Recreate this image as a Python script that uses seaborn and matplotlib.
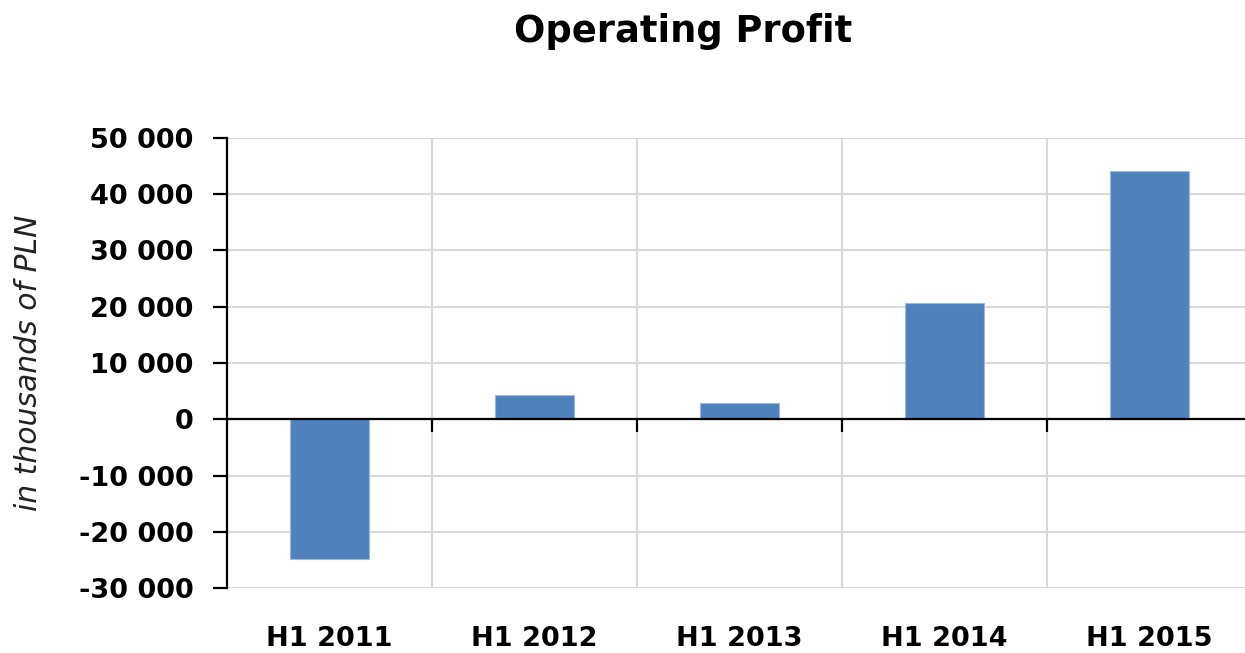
import matplotlib
matplotlib.use("Agg")
import matplotlib.pyplot as plt
import seaborn as sns
import pandas as pd
from matplotlib.ticker import FuncFormatter, MultipleLocator

categories = ["H1 2011", "H1 2012", "H1 2013", "H1 2014", "H1 2015"]
operating_profit = [-24800, 4300, 2900, 20700, 44200]
title = "Operating Profit"
y_label = "in thousands of PLN"

df = pd.DataFrame({"period": categories, "value": operating_profit})

sns.set_theme(style="white")
plt.rcParams["font.family"] = ["DejaVu Sans"]

fig = plt.figure(figsize=(12.45, 6.53), dpi=100)
ax = fig.add_axes([227 / 1245, 1 - 588 / 653, 1 - 227 / 1245, (588 - 138) / 653])

sns.barplot(data=df, x="period", y="value", color="#4F81BD", saturation=1,
            width=0.39, edgecolor="#9DB9DC", linewidth=0.8, ax=ax, zorder=3)

ax.set_ylim(-30000, 50000)
ax.set_xlim(-0.5, len(categories) - 0.5 - 7 / 205)
ax.yaxis.set_major_locator(MultipleLocator(10000))
ax.yaxis.set_major_formatter(FuncFormatter(lambda v, p: f"{v:,.0f}".replace(",", " ")))

boundaries = [i + 0.5 for i in range(len(categories) - 1)]
ax.set_xticks(boundaries, minor=True)

ax.grid(axis="y", which="major", color="#D9D9D9", linewidth=1.5)
ax.grid(axis="x", which="minor", color="#D9D9D9", linewidth=1.5)
ax.grid(axis="x", which="major", visible=False)
ax.set_axisbelow(True)

for s in ["top", "right", "bottom"]:
    ax.spines[s].set_visible(False)
ax.spines["left"].set_color("black")
ax.spines["left"].set_linewidth(1.6)
ax.spines["left"].set_zorder(6)

ax.tick_params(axis="y", which="major", direction="out", length=10, width=1.6,
               color="black", pad=14, left=True, labelsize=19.5)
ax.tick_params(axis="x", which="major", length=0, pad=27, labelsize=19.5)
ax.tick_params(axis="x", which="minor", length=0)
for lab in ax.get_xticklabels() + ax.get_yticklabels():
    lab.set_fontweight("bold")
    lab.set_color("black")

# zero line with category-boundary ticks
sec = ax.secondary_xaxis(0, transform=ax.transData)
sec.set_zorder(10)
sec.set_xticks(boundaries)
sec.set_xticklabels([""] * len(boundaries))
sec.tick_params(direction="out", length=9, width=1.6, color="black")
sec.spines["bottom"].set_color("black")
sec.spines["bottom"].set_linewidth(1.6)

ax.set_xlabel("")
ax.set_ylabel(y_label, fontsize=21.5, fontstyle="italic", color="#222222")
ax.yaxis.set_label_coords(-(227 - 43) / 1018, 0.5)

fig.text(683 / 1245, 1 - 32 / 653, title, ha="center", va="center",
         fontsize=26.5, fontweight="bold", color="black")

fig.savefig("out.png", dpi=100)
